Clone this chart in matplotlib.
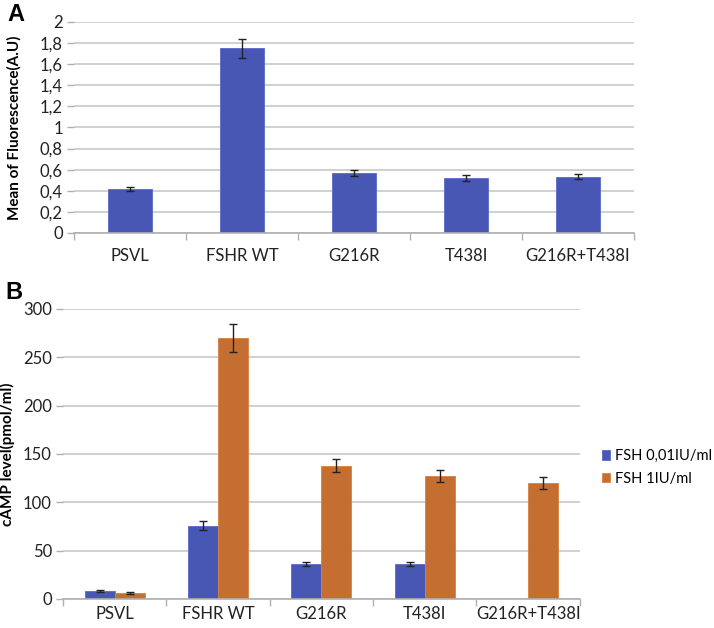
import matplotlib
matplotlib.use("Agg")
import matplotlib.pyplot as plt
import numpy as np
from matplotlib.ticker import FuncFormatter, FixedLocator

plt.rcParams['font.family'] = ['Lato', 'DejaVu Sans']

categories = ["PSVL", "FSHR WT", "G216R", "T438I", "G216R+T438I"]

# Panel A
fluor_mean = [0.42, 1.75, 0.57, 0.52, 0.535]
fluor_err = [0.02, 0.09, 0.03, 0.025, 0.025]

# Panel B
series_names = ["FSH 0,01IU/ml", "FSH 1IU/ml"]
camp_low = [8, 76, 36, 36, 0]
camp_low_err = [1, 5, 2, 2, 0]
camp_high = [6.5, 270, 138, 127, 120]
camp_high_err = [1, 14, 7, 6, 6]

blue = "#4757B3"
orange = "#C56E31"
grid_c = "#C8C8C8"
err_c = "#222222"

fig = plt.figure(figsize=(7.14, 6.28), dpi=100)

def style(ax, n, pad):
    for s in ["top", "right", "left"]:
        ax.spines[s].set_visible(False)
    ax.spines["bottom"].set_color("#B0B0B0")
    ax.spines["bottom"].set_linewidth(1.2)
    ax.yaxis.grid(True, color=grid_c, linewidth=1.2)
    ax.set_axisbelow(True)
    ax.set_xlim(-0.5, n - 0.5)
    ax.set_xticks(np.arange(n))
    ax.set_xticklabels(categories)
    ax.xaxis.set_minor_locator(FixedLocator(np.arange(-0.5, n, 1.0)))
    ax.tick_params(axis="x", which="major", length=0, pad=pad, labelsize=12, colors="#222222")
    ax.tick_params(axis="x", which="minor", length=5, color="#B0B0B0", width=1)
    ax.tick_params(axis="y", length=5, color="#B0B0B0", labelsize=12, width=1, pad=3)
    ax.yaxis.set_tick_params(labelcolor="#222222")

x = np.arange(len(categories))

# Panel A
axA = fig.add_axes([0.1036, 0.629, 0.7844, 0.336])
axA.bar(x, fluor_mean, width=0.4, color=blue, edgecolor="#5A6AC8", linewidth=0.6)
axA.errorbar(x, fluor_mean, yerr=fluor_err, fmt="none", ecolor=err_c, elinewidth=1, capsize=3, capthick=1)
axA.set_ylim(0, 2)
axA.set_yticks(np.arange(0, 2.01, 0.2))
axA.yaxis.set_major_formatter(FuncFormatter(lambda v, p: ("%g" % round(v, 1)).replace(".", ",")))
style(axA, len(categories), 11)
axA.set_ylabel("Mean of Fluorescence(A.U)", fontsize=11, fontweight="bold")
axA.yaxis.set_label_coords(-0.093, 0.5)

# Panel B
axB = fig.add_axes([0.0882, 0.0462, 0.7238, 0.4618])
w = 0.29
valid_low = [i for i, v in enumerate(camp_low) if v > 0]
axB.bar(x - w / 2, camp_low, width=w, color=blue, edgecolor="#5A6AC8", linewidth=0.6, label=series_names[0])
axB.errorbar((x - w / 2)[valid_low], np.array(camp_low)[valid_low], yerr=np.array(camp_low_err)[valid_low],
             fmt="none", ecolor=err_c, elinewidth=1, capsize=3, capthick=1)
axB.bar(x + w / 2, camp_high, width=w, color=orange, edgecolor="#D88040", linewidth=0.6, label=series_names[1])
axB.errorbar(x + w / 2, camp_high, yerr=camp_high_err, fmt="none", ecolor=err_c, elinewidth=1, capsize=3, capthick=1)
axB.set_ylim(0, 300)
axB.set_yticks(np.arange(0, 301, 50))
style(axB, len(categories), 5)
axB.set_ylabel("cAMP level(pmol/ml)", fontsize=11, fontweight="bold")
axB.yaxis.set_label_coords(-0.093, 0.5)

fig.legend(handles=axB.patches[:1] + axB.patches[5:6], labels=series_names,
           loc="upper right", bbox_to_anchor=(0.997, 0.285), frameon=False,
           fontsize=10.5, handlelength=0.6, handleheight=0.6, handletextpad=0.3,
           labelspacing=0.6, borderaxespad=0, borderpad=0, alignment="left")

fig.text(0.011, 0.995, "A", fontsize=17, fontweight="bold", va="top", ha="left",
         family=["Liberation Sans", "DejaVu Sans"])
fig.text(0.007, 0.553, "B", fontsize=17, fontweight="bold", va="top", ha="left",
         family=["Liberation Sans", "DejaVu Sans"])

fig.savefig("out.png", dpi=100, facecolor="white")
